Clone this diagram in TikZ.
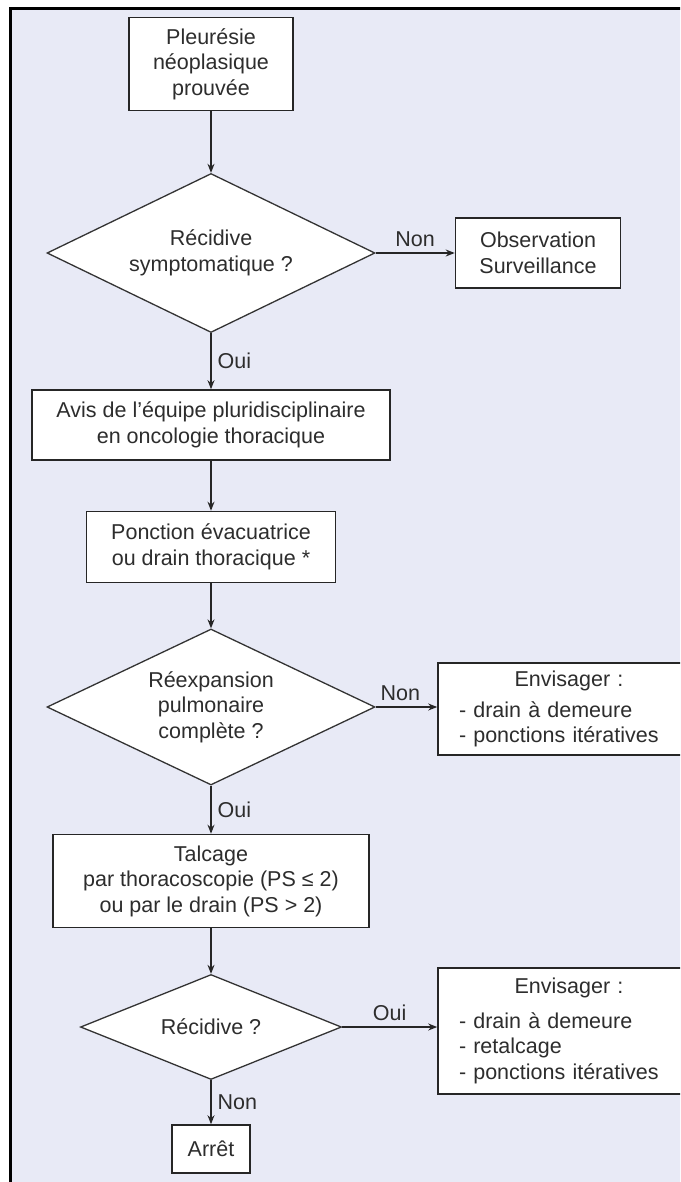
\documentclass[tikz,border=0pt]{standalone}
\usepackage{fontspec}
\setmainfont{Liberation Sans}
\usetikzlibrary{shapes.geometric,arrows.meta}
\definecolor{fondlavande}{RGB}{232,234,246}
\definecolor{texte}{RGB}{45,45,45}
\tikzstyle{boite} = [rectangle,draw=black!85,line width=1.6pt,fill=white,inner sep=0pt,align=center,text=texte]
\tikzstyle{losange} = [diamond,aspect=2,draw=black!80,line width=1.3pt,fill=white,inner sep=0pt,align=center,text=texte]
\tikzstyle{boiteliste} = [rectangle,draw=black!85,line width=1.6pt,fill=white,inner xsep=21pt,inner ysep=0pt,text width=270pt,align=left,text=texte]
\tikzstyle{fleche} = [line width=1.4pt,draw=black!85,-{Stealth[length=9pt,width=7pt]}]
\tikzstyle{etiquette} = [text=texte,inner sep=6pt]

\begin{document}
\begin{tikzpicture}[x=1pt,y=-1pt]
\tikzstyle{every node}=[font=\fontsize{21.5}{25.5}\selectfont]

% cadre (coupe a droite et en bas)
\clip (0,0) rectangle (680,1182);
\fill[white] (0,0) rectangle (680,1182);
\fill[fondlavande] (10.5,8.5) rectangle (700,1200);
\draw[line width=3pt] (10.5,1200) -- (10.5,8.5) -- (700,8.5);

% colonne principale
\node (pleu) [boite,minimum width=164pt,minimum height=93pt] at (211,64) {Pleurésie\\néoplasique\\prouvée};
\node (recsym) [losange,minimum width=328pt,minimum height=159pt,node distance=189pt,below of=pleu] {Récidive\\symptomatique ?};
\node (avis) [boite,minimum width=358pt,minimum height=70pt,node distance=172pt,below of=recsym] {Avis de l'équipe pluridisciplinaire\\en oncologie thoracique};
\node (ponc) [boite,minimum width=249pt,minimum height=71pt,node distance=122pt,below of=avis] {Ponction évacuatrice\\ou drain thoracique *};
\node (reexp) [losange,minimum width=328pt,minimum height=156pt,node distance=160pt,below of=ponc] {Réexpansion\\pulmonaire\\complète ?};
\node (talc) [boite,minimum width=316pt,minimum height=93pt,node distance=174pt,below of=reexp] {Talcage\\par thoracoscopie (PS ≤ 2)\\ou par le drain (PS > 2)};
\node (recid) [losange,minimum width=261pt,minimum height=105pt,node distance=146pt,below of=talc] {Récidive ?};
\node (arret) [boite,minimum width=78pt,minimum height=48pt,node distance=122pt,below of=recid] {Arrêt};

% colonne de droite (boites coupees par le bord)
\node (obs) [boite,minimum width=165pt,minimum height=70pt,node distance=327pt,right of=recsym] {Observation\\Surveillance};
\node (env1) [boiteliste,minimum height=92pt,node distance=383pt,right of=reexp,yshift=-2pt] {\makebox[220pt]{Envisager :}\\[5pt]- drain à demeure\\- ponctions itératives};
\node (env2) [boiteliste,minimum height=126pt,node distance=383pt,right of=recid,yshift=-4pt] {\makebox[220pt]{Envisager :}\\[9pt]- drain à demeure\\- retalcage\\- ponctions itératives};

\draw[fleche] (pleu) -- (recsym);
\draw[fleche] (recsym.east) -- node[etiquette,above] (non1) {Non} (recsym.east -| obs.west);
\draw[fleche] (recsym) -- node[etiquette,right] (oui1) {Oui} (avis);
\draw[fleche] (avis) -- (ponc);
\draw[fleche] (ponc) -- (reexp);
\draw[fleche] (reexp.east) -- node[etiquette,above,pos=0.4] (non2) {Non} (reexp.east -| env1.west);
\draw[fleche] (reexp) -- node[etiquette,right] (oui2) {Oui} (talc);
\draw[fleche] (talc) -- (recid);
\draw[fleche] (recid.east) -- node[etiquette,above] (oui3) {Oui} (recid.east -| env2.west);
\draw[fleche] (recid) -- node[etiquette,right] (non3) {Non} (arret);
\end{tikzpicture}
\end{document}
